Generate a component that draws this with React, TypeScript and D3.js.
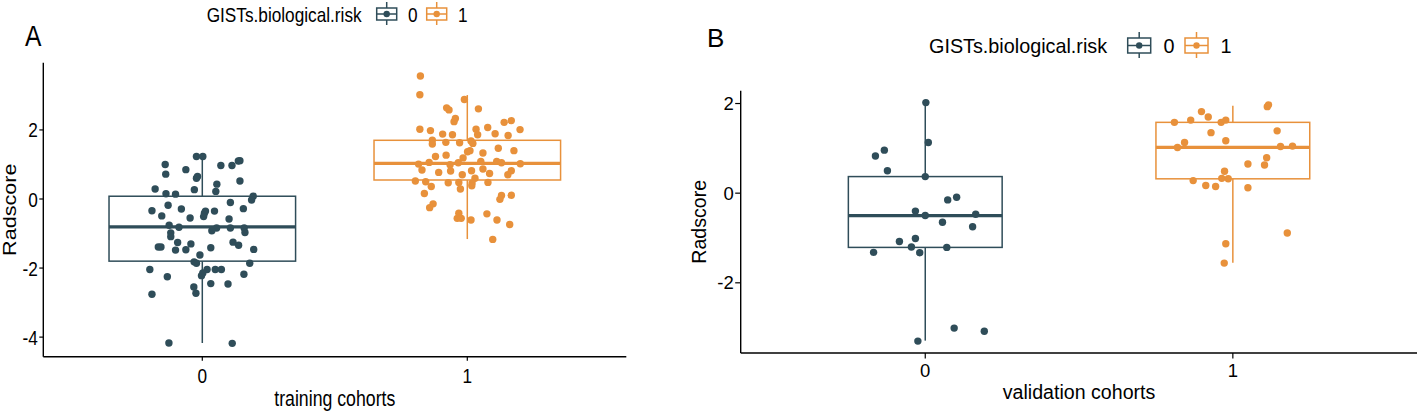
import React from "react";
import * as d3 from "d3";

// groups shown on both panels
const groups = ["0", "1"];
const groupColors = ["#2F4D59", "#E8913B"];

// training cohort: [jitter offset in category units, Radscore]
const trainPoints0: [number, number][] = [
  [-0.022, 1.23], [0.002, 1.23], [-0.14, 1.0], [-0.062, 0.85], [0.07, 0.97], [0.112, 0.97],
  [0.136, 1.1], [0.142, 1.11], [-0.138, 0.72], [-0.022, 0.6], [-0.018, 0.65], [0.055, 0.43],
  [0.142, 0.52], [-0.178, 0.29], [-0.03, 0.27], [0.051, 0.22], [-0.137, 0.15], [-0.101, 0.14],
  [0.192, 0.08], [0.186, -0.03], [0.106, -0.1], [-0.129, -0.18], [0.155, -0.28], [-0.19, -0.34],
  [-0.079, -0.29], [0.046, -0.35], [0.012, -0.35], [0.008, -0.41], [-0.153, -0.49], [-0.046, -0.55],
  [0.005, -0.51], [0.101, -0.58], [-0.125, -0.76], [-0.088, -0.82], [0.054, -0.84], [0.106, -0.84],
  [0.158, -0.84], [-0.119, -0.98], [-0.119, -1.09], [0.036, -0.92], [0.161, -0.97], [-0.093, -1.26],
  [-0.043, -1.3], [0.116, -1.25], [0.137, -1.34], [-0.166, -1.39], [-0.156, -1.39], [-0.101, -1.48],
  [-0.062, -1.47], [0.194, -1.46], [0.032, -1.41], [-0.009, -1.62], [-0.031, -1.82], [-0.022, -1.86],
  [0.179, -1.86], [-0.198, -2.04], [0.018, -2.04], [0.049, -2.04], [0.072, -2.04], [-0.003, -2.22],
  [0.002, -2.14], [-0.132, -2.25], [0.157, -2.18], [0.032, -2.45], [0.097, -2.46], [-0.032, -2.55],
  [-0.024, -2.73], [-0.19, -2.76], [-0.126, -4.17], [0.113, -4.18],
];
const trainPoints1: [number, number][] = [
  [-0.177, 3.56], [-0.179, 3.02], [-0.011, 2.88], [-0.078, 2.64], [-0.069, 2.58], [0.042, 2.61],
  [-0.045, 2.33], [-0.05, 2.24], [0.139, 2.22], [0.166, 2.27], [-0.179, 2.02], [-0.139, 1.98],
  [0.033, 2.02], [0.039, 1.86], [0.077, 2.07], [0.199, 2.01], [-0.093, 1.88], [-0.056, 1.86],
  [0.105, 1.89], [0.154, 1.84], [-0.132, 1.7], [-0.132, 1.59], [-0.081, 1.64], [-0.029, 1.63],
  [0.014, 1.68], [0.021, 1.61], [0.001, 1.37], [0.01, 1.4], [0.117, 1.47], [0.176, 1.4],
  [0.059, 1.33], [-0.12, 1.23], [-0.08, 1.27], [-0.016, 1.19], [-0.034, 1.05], [-0.184, 1.01],
  [-0.144, 1.06], [0.051, 1.09], [0.111, 1.09], [0.129, 1.05], [0.2, 1.02], [-0.065, 0.99],
  [-0.171, 0.84], [-0.108, 0.77], [-0.063, 0.81], [0.016, 0.82], [0.059, 0.87], [0.166, 0.82],
  [0.153, 0.7], [0.084, 0.74], [-0.019, 0.7], [0.029, 0.6], [-0.032, 0.48], [0.078, 0.48],
  [-0.196, 0.52], [-0.157, 0.5], [-0.072, 0.47], [0.018, 0.46], [0.017, 0.38], [-0.026, 0.29],
  [-0.136, 0.36], [-0.162, 0.16], [0.129, 0.1], [0.123, -0.01], [0.166, 0.11], [-0.129, -0.14],
  [-0.142, -0.25], [-0.032, -0.41], [-0.038, -0.56], [-0.023, -0.56], [0.014, -0.61], [0.074, -0.43],
  [0.112, -0.61], [0.16, -0.74], [0.096, -1.17],
];
// box stats: [lower whisker, Q1, median, Q3, upper whisker]
const trainBoxes: [number, number, number, number, number][] = [
  [-4.17, -1.8, -0.81, 0.08, 1.25],
  [-1.16, 0.55, 1.03, 1.7, 3.01],
];

// validation cohort
const validPoints0: [number, number][] = [
  [0.002, 2.02], [0.01, 1.13], [-0.162, 0.83], [-0.133, 0.96], [-0.123, 0.5], [0.0, 0.37],
  [0.073, -0.15], [0.102, -0.09], [-0.032, -0.4], [0.0, -0.5], [0.164, -0.47], [0.056, -0.65],
  [0.154, -0.75], [-0.084, -1.08], [-0.032, -1.01], [-0.045, -1.2], [0.07, -1.21], [-0.168, -1.32],
  [-0.018, -1.33], [0.094, -3.01], [0.192, -3.08], [-0.024, -3.3],
];
const validPoints1: [number, number][] = [
  [0.112, 1.93], [0.116, 1.97], [-0.102, 1.82], [-0.08, 1.7], [-0.19, 1.58], [-0.137, 1.63],
  [-0.038, 1.58], [-0.023, 1.63], [0.144, 1.39], [-0.071, 1.35], [-0.023, 1.17], [-0.157, 1.13],
  [-0.18, 1.02], [0.155, 1.04], [0.194, 1.05], [0.11, 0.79], [0.103, 0.63], [0.049, 0.65],
  [-0.027, 0.49], [-0.036, 0.33], [-0.015, 0.32], [-0.129, 0.28], [-0.088, 0.17], [-0.056, 0.15],
  [0.049, 0.12], [0.177, -0.89], [-0.023, -1.13], [-0.028, -1.56],
];
const validBoxes: [number, number, number, number, number][] = [
  [-3.29, -1.21, -0.5, 0.37, 2.02],
  [-1.55, 0.32, 1.02, 1.58, 1.95],
];

const yTicksA = [-4, -2, 0, 2];
const yTicksB = [-2, 0, 2];

const FONT = "'Liberation Sans', Arial, sans-serif";

type PanelProps = {
  points: [number, number][][];
  boxes: [number, number, number, number, number][];
  yTicks: number[];
  left: number; right: number; top: number; bottom: number;
  boxWidth: number;
  sx: number; // horizontal squeeze of the text in this panel
  tickFont: number; titleFont: number;
  xTitle: string; xTitleY: number; yTitleX: number;
  tickLen: number; xTickY: number; yTickGap: number;
  tag: string; tagX: number; tagY: number; tagFont: number;
  legendX: number; legendY: number; legendFont: number;
  keyBox: [number, number]; // width, height
  keyStep: number[]; // x offsets: key0, label0, key1, label1
};

const Panel = (p: PanelProps) => {
  const all = p.points.flat().map((d) => d[1]);
  const [lo, hi] = d3.extent(all) as [number, number];
  const pad = (hi - lo) * 0.05;
  const y = d3.scaleLinear().domain([lo - pad, hi + pad]).range([p.bottom, p.top]);
  const x = d3.scalePoint<string>().domain(groups).range([p.left, p.right]).padding(0.6);
  const step = x.step();
  const sq = (tx: number, ty: number, extra = "") => `translate(${tx},${ty}) scale(${p.sx},1)${extra}`;

  const [kw, kh] = p.keyBox;
  return (
    <g fontFamily={FONT}>
      <text transform={sq(p.tagX, p.tagY)} fontSize={p.tagFont}>{p.tag}</text>

      {/* legend */}
      <text transform={sq(p.legendX, p.legendY + p.legendFont * 0.36)} fontSize={p.legendFont}>
        GISTs.biological.risk
      </text>
      {groups.map((g, i) => {
        const kx = p.keyStep[i * 2];
        const lx = p.keyStep[i * 2 + 1];
        const c = groupColors[i];
        return (
          <g key={g}>
            <line x1={kx + kw / 2} x2={kx + kw / 2} y1={p.legendY - kh / 2 - 6} y2={p.legendY + kh / 2 + 5} stroke={c} strokeWidth={1.5} />
            <rect x={kx} y={p.legendY - kh / 2} width={kw} height={kh} fill="white" stroke={c} strokeWidth={1.5} />
            <line x1={kx} x2={kx + kw} y1={p.legendY} y2={p.legendY} stroke={c} strokeWidth={1.5} />
            <circle cx={kx + kw / 2} cy={p.legendY} r={3.2} fill={c} />
            <text transform={sq(lx, p.legendY + p.legendFont * 0.36)} fontSize={p.legendFont}>{g}</text>
          </g>
        );
      })}

      {/* boxes */}
      {p.boxes.map((b, i) => {
        const cx = x(groups[i])!;
        const hw = (step * p.boxWidth) / 2;
        const c = groupColors[i];
        return (
          <g key={"b" + i} stroke={c} fill="none">
            <line x1={cx} x2={cx} y1={y(b[3])} y2={y(b[4])} strokeWidth={1.5} />
            <line x1={cx} x2={cx} y1={y(b[1])} y2={y(b[0])} strokeWidth={1.5} />
            <rect x={cx - hw} y={y(b[3])} width={hw * 2} height={y(b[1]) - y(b[3])} strokeWidth={1.5} fill="white" />
            <line x1={cx - hw} x2={cx + hw} y1={y(b[2])} y2={y(b[2])} strokeWidth={3.2} />
          </g>
        );
      })}

      {/* jittered points */}
      {p.points.map((pts, i) =>
        pts.map((d, j) => (
          <circle key={`p${i}-${j}`} cx={x(groups[i])! + d[0] * step} cy={y(d[1])} r={3.7} fill={groupColors[i]} />
        ))
      )}

      {/* axes */}
      <line x1={p.left} x2={p.left} y1={p.top} y2={p.bottom} stroke="black" strokeWidth={1.4} />
      <line x1={p.left} x2={p.right} y1={p.bottom} y2={p.bottom} stroke="black" strokeWidth={1.4} />
      {p.yTicks.map((t) => (
        <g key={"yt" + t}>
          <line x1={p.left - p.tickLen} x2={p.left} y1={y(t)} y2={y(t)} stroke="black" strokeWidth={1.2} />
          <text transform={sq(p.left - p.tickLen - p.yTickGap, y(t) + p.tickFont * 0.36)} fontSize={p.tickFont} textAnchor="end">
            {t}
          </text>
        </g>
      ))}
      {groups.map((g) => (
        <g key={"xt" + g}>
          <line x1={x(g)!} x2={x(g)!} y1={p.bottom} y2={p.bottom + p.tickLen} stroke="black" strokeWidth={1.2} />
          <text transform={sq(x(g)!, p.xTickY)} fontSize={p.tickFont} textAnchor="middle">{g}</text>
        </g>
      ))}
      <text transform={sq((p.left + p.right) / 2, p.xTitleY)} fontSize={p.titleFont} textAnchor="middle">
        {p.xTitle}
      </text>
      <text transform={sq(p.yTitleX, (p.top + p.bottom) / 2, " rotate(-90)")} fontSize={p.titleFont} textAnchor="middle">
        Radscore
      </text>
    </g>
  );
};

export default function App() {
  return (
    <svg width={1417} height={413} style={{ position: "absolute", left: 0, top: 0, background: "white" }}>
      <rect width={1417} height={413} fill="white" />
      <Panel
        points={[trainPoints0, trainPoints1]}
        boxes={trainBoxes}
        yTicks={yTicksA}
        left={43.3} right={626.3} top={62.7} bottom={356.7}
        boxWidth={0.704}
        sx={0.82}
        tickFont={21} titleFont={21.6}
        xTitle="training cohorts" xTitleY={406} yTitleX={15.5}
        tickLen={4} xTickY={383} yTickGap={1.5}
        tag="A" tagX={25} tagY={46} tagFont={30}
        legendX={206.7} legendY={14} legendFont={21}
        keyBox={[20, 12]}
        keyStep={[376.7, 408, 426.7, 458]}
      />
      <Panel
        points={[validPoints0, validPoints1]}
        boxes={validBoxes}
        yTicks={yTicksB}
        left={740.7} right={1417.4} top={90.7} bottom={353}
        boxWidth={0.5}
        sx={1}
        tickFont={18.5} titleFont={19.6}
        xTitle="validation cohorts" xTitleY={399} yTitleX={706}
        tickLen={5.5} xTickY={377} yTickGap={1.5}
        tag="B" tagX={707} tagY={47} tagFont={26}
        legendX={929} legendY={45.5} legendFont={19.8}
        keyBox={[23, 15]}
        keyStep={[1127.7, 1163.5, 1185, 1220.5]}
      />
    </svg>
  );
}
